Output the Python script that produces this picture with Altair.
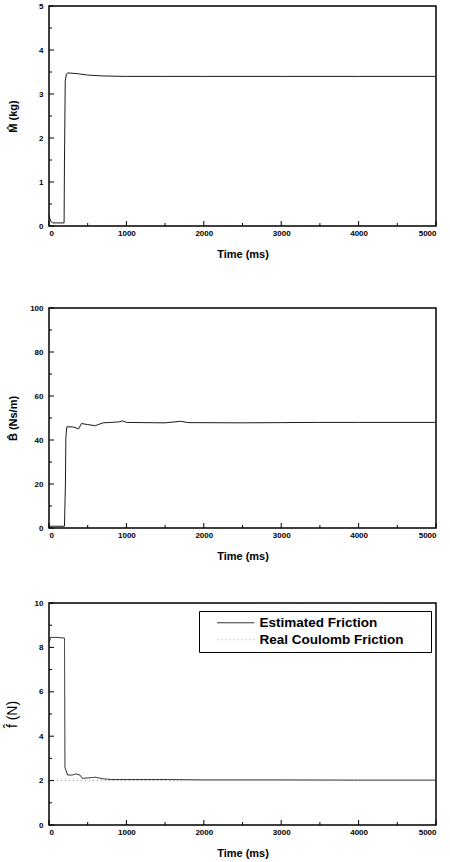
import altair as alt
import pandas as pd

# ---------------- data ----------------
time_m = [0, 10, 25, 50, 100, 195, 200, 210, 225, 240, 380, 500, 700, 1000, 1500, 2000, 3000, 4000, 5000]
mass_est = [0.25, 0.18, 0.1, 0.07, 0.07, 0.07, 1.5, 3.3, 3.45, 3.48, 3.46, 3.43, 3.41, 3.40, 3.40, 3.40, 3.40, 3.40, 3.40]

time_b = [0, 50, 200, 212, 218, 230, 300, 350, 380, 420, 500, 600, 650, 700, 800, 900, 950, 1000,
          1200, 1500, 1700, 1800, 2500, 3000, 3500, 4000, 5000]
damp_est = [0.8, 0.8, 0.8, 20, 41, 46, 46, 45.5, 45, 47.5, 47, 46.5, 47.2, 47.8, 48, 48.2, 48.7, 48,
            47.9, 47.8, 48.5, 47.9, 47.8, 47.9, 48, 48, 48]

time_f = [0, 20, 100, 200, 206, 215, 240, 300, 350, 400, 430, 500, 600, 700, 800, 1000, 1500, 2000, 3000, 4000, 5000]
fric_est = [8.2, 8.45, 8.45, 8.42, 2.6, 2.5, 2.25, 2.25, 2.3, 2.25, 2.1, 2.12, 2.15, 2.08, 2.05, 2.05, 2.05,
            2.03, 2.03, 2.02, 2.02]

time_real = [0, 5000]
fric_real = [2.0, 2.0]

series_names = ["Estimated Friction", "Real Coulomb Friction"]

x_major = [0, 1000, 2000, 3000, 4000, 5000]
x_minor = [500, 1500, 2500, 3500, 4500]
m_major = [0, 1, 2, 3, 4, 5]
m_minor = [0.5, 1.5, 2.5, 3.5, 4.5]
b_major = [0, 20, 40, 60, 80, 100]
b_minor = [10, 30, 50, 70, 90]
f_major = [0, 2, 4, 6, 8, 10]
f_minor = [1, 3, 5, 7, 9]

FONT = "Liberation Sans"
LINE = "#1a1a1a"


def ticks_layers(h):
    xs = alt.Scale(domain=[0, 5000], nice=False, zero=False)
    out = []
    for vals, ln in ((x_major, 5), (x_minor, 3)):
        out.append(alt.Chart(pd.DataFrame({"t": vals})).mark_rule(color="black", strokeWidth=1).encode(
            x=alt.X("t:Q", scale=xs), y=alt.value(h), y2=alt.value(h - ln)))
    return out


def yticks_layers(ydom, ymaj, ymin):
    ys = alt.Scale(domain=ydom, nice=False, zero=False)
    out = []
    for vals, ln in ((ymaj, 5), (ymin, 3)):
        out.append(alt.Chart(pd.DataFrame({"v": vals})).mark_rule(color="black", strokeWidth=1).encode(
            y=alt.Y("v:Q", scale=ys), x=alt.value(0), x2=alt.value(ln)))
    return out


def x_enc():
    return alt.X("t:Q", scale=alt.Scale(domain=[0, 5000], nice=False, zero=False),
                 axis=alt.Axis(values=x_major, format="d", title="Time (ms)", ticks=False, domain=False,
                               grid=False, labelPadding=3, titlePadding=11))


def y_axis(ymaj, ytitle, tx, h, ytsize=11, ytweight="bold"):
    return alt.Axis(values=ymaj, title=ytitle, ticks=False, domain=False, grid=False,
                    labelPadding=6, titleX=tx, titleY=h / 2, titleAngle=270, titleBaseline="middle",
                    titleAlign="center", titleFontSize=ytsize, titleFontWeight=ytweight)


def panel(t, v, ydom, ymaj, ymin, ytitle, w, h, tx):
    df = pd.DataFrame({"t": t, "v": v})
    main = alt.Chart(df).mark_line(color=LINE, strokeWidth=1).encode(
        x=x_enc(),
        y=alt.Y("v:Q", scale=alt.Scale(domain=ydom, nice=False, zero=False), axis=y_axis(ymaj, ytitle, tx, h)))
    layers = [main] + ticks_layers(h) + yticks_layers(ydom, ymaj, ymin)
    return alt.layer(*layers).properties(width=w, height=h)


p1 = panel(time_m, mass_est, [0, 5], m_major, m_minor, "M\u0302 (kg)", 387, 220, -36)
p2 = panel(time_b, damp_est, [0, 100], b_major, b_minor, "B\u0302 (Ns/m)", 387, 220, -36)

# panel 3 with legend
df_f = pd.DataFrame({"t": time_f + time_real,
                     "v": fric_est + fric_real,
                     "series": [series_names[0]] * len(time_f) + [series_names[1]] * len(time_real)})
leg = alt.Legend(orient="none", legendX=150, legendY=8, title="\u00a0", titleOrient="right",
                 titlePadding=22, titleFontSize=4,
                 symbolType="M-6,0H6", symbolSize=38, symbolStrokeWidth=1, symbolOffset=25, labelOffset=17,
                 labelFontSize=13.5, labelFont=FONT, labelFontWeight="bold", labelColor="black",
                 padding=5, rowPadding=2, strokeColor="black", fillColor="white", labelLimit=300)
f_main = alt.Chart(df_f).mark_line(strokeWidth=1).encode(
    x=x_enc(),
    y=alt.Y("v:Q", scale=alt.Scale(domain=[0, 10], nice=False, zero=False),
            axis=y_axis(f_major, "f\u0302 (N)", -37, 222, 14, "normal")),
    color=alt.Color("series:N", scale=alt.Scale(domain=series_names, range=[LINE, "#9a9a9a"]), legend=leg),
    strokeDash=alt.StrokeDash("series:N", scale=alt.Scale(domain=series_names, range=[[1, 0], [1, 3]]),
                              legend=leg),
    order=alt.Order("series:N", sort="descending"),
)
p3 = alt.layer(f_main, *ticks_layers(222), *yticks_layers([0, 10], f_major, f_minor)).properties(
    width=387, height=222)

top = alt.vconcat(p1, p2, spacing=43)
chart = alt.vconcat(top, p3, spacing=36).properties(
    padding={"left": 4, "top": 1, "right": 0, "bottom": 0}, background="white"
).resolve_legend(color="independent", strokeDash="independent").configure_view(
    stroke="black", strokeWidth=1.5
).configure_axis(
    labelFont=FONT, labelFontSize=8, labelFontWeight="bold", labelColor="black",
    titleFont=FONT, titleFontSize=11, titleFontWeight="bold", titleColor="black"
)

chart.save("out.html", embed_options={"renderer": "svg", "actions": False})
